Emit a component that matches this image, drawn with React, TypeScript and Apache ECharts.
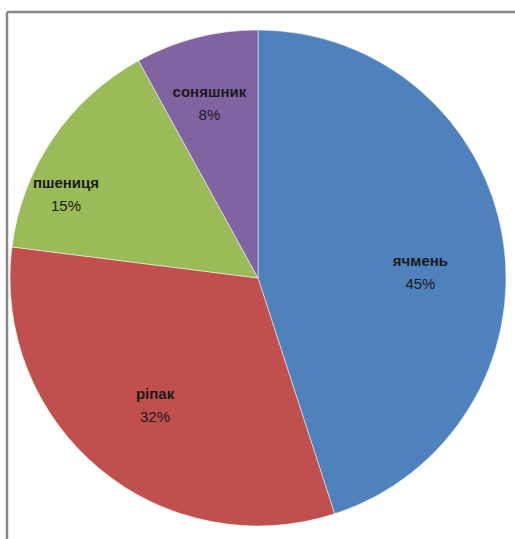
import React, { useEffect, useRef } from "react";
import * as echarts from "echarts";

const categories = ["ячмень", "ріпак", "пшениця", "соняшник"];
const values = [45, 32, 15, 8];
const colors = ["#4F81BD", "#C0504D", "#9BBB59", "#8064A2"];

export default function App() {
  const ref = useRef<HTMLDivElement>(null);
  useEffect(() => {
    if (!ref.current) return;
    const chart = echarts.init(ref.current, null, { renderer: "svg" });
    const labelOffsets: Record<string, number[]> = {
      "ячмень": [37, 14],
      "ріпак": [-22, 29],
      "пшениця": [-87, -13],
      "соняшник": [-17, -52],
    };
    const option = {
      animation: false,
      backgroundColor: "#ffffff",
      graphic: [
        { type: "line", shape: { x1: 7, y1: 12, x2: 515, y2: 12 }, style: { stroke: "#888888", lineWidth: 2.5 } },
        { type: "line", shape: { x1: 7, y1: 12, x2: 7, y2: 539 }, style: { stroke: "#888888", lineWidth: 2.5 } },
      ],
      series: [
        {
          type: "pie",
          center: [258, 278],
          radius: 248,
          startAngle: 90,
          clockwise: true,
          avoidLabelOverlap: false,
          itemStyle: { borderColor: "#ffffff", borderWidth: 0.5 },
          label: {
            show: true,
            position: "inside",
            formatter: (p: any) => `{n|${p.name}}\n{v|${p.value}%}`,
            rich: {
              n: { fontFamily: "Liberation Sans Narrow, Liberation Sans, Arial, sans-serif", fontWeight: "bold", fontSize: 15, color: "#1a1a1a", lineHeight: 23 },
              v: { fontFamily: "Liberation Sans, Arial, sans-serif", fontSize: 15, color: "#1a1a1a", lineHeight: 23 },
            },
          },
          labelLine: { show: false },
          data: categories.map((c, i) => ({
            name: c,
            value: values[i],
            itemStyle: { color: colors[i] },
            label: { offset: labelOffsets[c] },
          })),
        },
      ],
    };
    chart.setOption(option as any);
    return () => chart.dispose();
  }, []);
  return (
    <div
      ref={ref}
      style={{ position: "absolute", left: 0, top: 0, width: 515, height: 539 }}
    />
  );
}
